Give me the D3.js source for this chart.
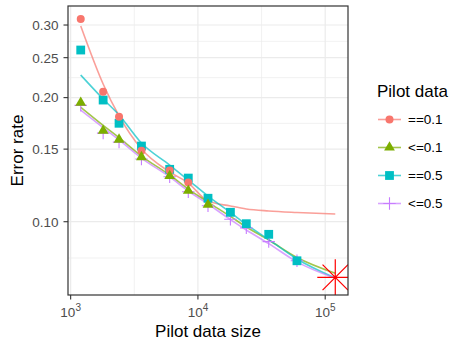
<!DOCTYPE html>
<html><head><meta charset="utf-8">
<script src="https://cdn.jsdelivr.net/npm/d3@7"></script>
<style>body{margin:0;background:#fff}</style>
</head><body><svg id="c" width="453" height="341"></svg>
<script>
// ---- data ----
const sizes = [1200,1800,2400,3600,6000,8400,12000,18000,24000,36000,60000,120000];
const seriesNames = ["==0.1","<=0.1","==0.5","<=0.5"];
const seriesColors = ["#F8766D","#7CAE00","#00BFC4","#C77CFF"];
const seriesShapes = ["circle","triangle","square","plus"];
// observed error rates (points), indexed by sizes
const ptEq01 = [0.3101,0.2066,0.1798,0.1487,0.1331,0.1245];
const ptLe01 = [0.1945,0.1662,0.1582,0.1435,0.1292,0.1189,0.1100];
const ptEq05 = [0.2609,0.1973,0.1733,0.1526,0.1340,0.1276,0.1140,0.1054,0.0989,0.0932,0.0804];
const ptLe05 = [0.1915,0.1640,0.1560,0.1420,0.1285,0.1182,0.1093,0.1014,0.0966,0.0895,0.0804];
// fitted curves, indexed by sizes
const fitEq01 = [0.2984,0.2158,0.1805,0.1501,0.1320,0.1241,0.1122,0.1092,0.1074,0.1062,0.1053,0.1044];
const fitLe01 = [0.1895,0.1713,0.1599,0.1443,0.1298,0.1200,0.1116,0.1030,0.0971,0.0903,0.0819,0.0750];
const fitEq05 = [0.2269,0.1985,0.1815,0.1552,0.1372,0.1262,0.1154,0.1053,0.0985,0.0905,0.0812,0.0730];
const fitLe05 = [0.1866,0.1692,0.1579,0.1427,0.1284,0.1187,0.1104,0.1012,0.0955,0.0885,0.0799,0.0729];
const targetSize = [120000];
const targetRate = [0.0733];
const yTicks = [0.10,0.15,0.20,0.25,0.30];
const yTickLabels = ["0.10","0.15","0.20","0.25","0.30"];
const xTicks = [1e3,1e4,1e5];
const xTickExp = ["3","4","5"];

// ---- layout ----
const P = {l:68, r:348, t:6, b:295};
const svg = d3.select("#c");
const lx0 = Math.log10(d3.min(sizes)), lx1 = Math.log10(d3.max(sizes));
const ex = (lx1-lx0)*0.05;
const x = d3.scaleLog().domain([Math.pow(10,lx0-ex), Math.pow(10,lx1+ex)]).range([P.l,P.r]);
const y = d3.scaleLog().domain([0.06641,0.33363]).range([P.b,P.t]);

const points = [ptEq01, ptLe01, ptEq05, ptLe05];
const fits = [fitEq01, fitLe01, fitEq05, fitLe05];

// grid
const g = svg.append("g");
function minorBreaks(ticks, lo, hi){
  const lt = ticks.map(Math.log10);
  const bd = lt[1]-lt[0];
  let b = lt.slice();
  if (lo < b[0]) b.unshift(b[0]-bd);
  if (hi > b[b.length-1]) b.push(b[b.length-1]+bd);
  const out=[];
  for(let i=0;i<b.length-1;i++) out.push((b[i]+b[i+1])/2);
  return out.filter(v=>v>lo && v<hi).map(v=>Math.pow(10,v));
}
const yd = y.domain().map(Math.log10), xd = x.domain().map(Math.log10);
const yMinor = minorBreaks(yTicks, yd[0], yd[1]);
const xMinor = minorBreaks(xTicks, xd[0], xd[1]);
g.selectAll(".ymn").data(yMinor).join("line").attr("x1",P.l).attr("x2",P.r)
  .attr("y1",d=>y(d)).attr("y2",d=>y(d)).attr("stroke","#EBEBEB").attr("stroke-width",0.7);
g.selectAll(".xmn").data(xMinor).join("line").attr("y1",P.t).attr("y2",P.b)
  .attr("x1",d=>x(d)).attr("x2",d=>x(d)).attr("stroke","#EBEBEB").attr("stroke-width",0.7);
g.selectAll(".ymj").data(yTicks).join("line").attr("x1",P.l).attr("x2",P.r)
  .attr("y1",d=>y(d)).attr("y2",d=>y(d)).attr("stroke","#EBEBEB").attr("stroke-width",1.2);
g.selectAll(".xmj").data(xTicks).join("line").attr("y1",P.t).attr("y2",P.b)
  .attr("x1",d=>x(d)).attr("x2",d=>x(d)).attr("stroke","#EBEBEB").attr("stroke-width",1.2);

// clip
svg.append("clipPath").attr("id","clp").append("rect")
  .attr("x",P.l).attr("y",P.t).attr("width",P.r-P.l).attr("height",P.b-P.t);
const plot = svg.append("g").attr("clip-path","url(#clp)");

// fitted lines
const line = d3.line().x(d=>x(d[0])).y(d=>y(d[1])).curve(d3.curveMonotoneX);
fits.forEach((f,i)=>{
  plot.append("path").datum(f.map((v,j)=>[sizes[j],v]))
    .attr("d",line).attr("fill","none").attr("stroke",seriesColors[i])
    .attr("stroke-opacity",0.7).attr("stroke-width",1.6);
});

// markers
const R = 4.0;
function drawShape(sel, shape, color, cx, cy){
  if(shape==="circle"){
    sel.append("circle").attr("cx",cx).attr("cy",cy).attr("r",R).attr("fill",color);
  } else if(shape==="square"){
    const h=4.4;
    sel.append("rect").attr("x",cx-h).attr("y",cy-h).attr("width",2*h).attr("height",2*h).attr("fill",color);
  } else if(shape==="triangle"){
    const r=1.5551*R, xc=1.3468*R, yc=0.7776*R;
    sel.append("path").attr("d",`M${cx},${cy-r}L${cx+xc},${cy+yc}L${cx-xc},${cy+yc}Z`).attr("fill",color);
  } else if(shape==="plus"){
    const a=6.2;
    sel.append("path").attr("d",`M${cx-a},${cy}H${cx+a}M${cx},${cy-a}V${cy+a}`)
      .attr("stroke",color).attr("stroke-width",1.1).attr("fill","none");
  }
}
const drawOrder = [3,2,0,1];
drawOrder.forEach(i=>{
  points[i].forEach((v,j)=>drawShape(plot, seriesShapes[i], seriesColors[i], x(sizes[j]), y(v)));
});

// target star
targetSize.forEach((s,k)=>{
  const cx=x(s), cy=y(targetRate[k]), a=18, d=a/Math.SQRT2;
  plot.append("path").attr("d",`M${cx-a},${cy}H${cx+a}M${cx},${cy-a}V${cy+a}M${cx-d},${cy-d}L${cx+d},${cy+d}M${cx-d},${cy+d}L${cx+d},${cy-d}`)
    .attr("stroke","#FF0000").attr("stroke-width",1.2).attr("fill","none");
});

// panel border
svg.append("rect").attr("x",P.l).attr("y",P.t).attr("width",P.r-P.l).attr("height",P.b-P.t)
  .attr("fill","none").attr("stroke","#333333").attr("stroke-width",1.2);

// axes ticks
const font = "Liberation Sans, Arial, Helvetica, sans-serif";
svg.selectAll(".yt").data(yTicks).join("line").attr("x1",P.l-4.5).attr("x2",P.l)
  .attr("y1",d=>y(d)).attr("y2",d=>y(d)).attr("stroke","#333333").attr("stroke-width",1.1);
svg.selectAll(".ytl").data(yTicks).join("text").attr("x",P.l-9.5).attr("y",d=>y(d))
  .attr("dy","0.36em").attr("text-anchor","end").attr("font-family",font).attr("font-size",13.5)
  .attr("fill","#4D4D4D").text((d,i)=>yTickLabels[i]);
svg.selectAll(".xt").data(xTicks).join("line").attr("y1",P.b).attr("y2",P.b+4.5)
  .attr("x1",d=>x(d)).attr("x2",d=>x(d)).attr("stroke","#333333").attr("stroke-width",1.1);
const xtl = svg.selectAll(".xtl").data(xTicks).join("text").attr("x",d=>x(d)).attr("y",316.5)
  .attr("text-anchor","middle").attr("font-family",font).attr("font-size",13.5).attr("fill","#4D4D4D");
xtl.append("tspan").text("10");
xtl.append("tspan").attr("dy",-5.5).attr("font-size",10).text((d,i)=>xTickExp[i]);

// axis titles
svg.append("text").attr("x",(P.l+P.r)/2).attr("y",336.5).attr("text-anchor","middle")
  .attr("font-family",font).attr("font-size",17).attr("fill","#000").text("Pilot data size");
svg.append("text").attr("transform",`translate(23,${(P.t+P.b)/2}) rotate(-90)`).attr("text-anchor","middle")
  .attr("font-family",font).attr("font-size",17).attr("fill","#000").text("Error rate");

// legend
const L = svg.append("g");
L.append("text").attr("x",377).attr("y",97).attr("font-family",font).attr("font-size",17)
  .attr("fill","#000").text("Pilot data");
const keyY = [119.5,147.5,175.5,203.5];
seriesNames.forEach((n,i)=>{
  L.append("line").attr("x1",378).attr("x2",401).attr("y1",keyY[i]).attr("y2",keyY[i])
    .attr("stroke",seriesColors[i]).attr("stroke-opacity",0.7).attr("stroke-width",1.6);
  drawShape(L, seriesShapes[i], seriesColors[i], 389.5, keyY[i]);
  L.append("text").attr("x",408).attr("y",keyY[i]).attr("dy","0.36em").attr("font-family",font)
    .attr("font-size",13.5).attr("fill","#000").text(n);
});
</script></body></html>
